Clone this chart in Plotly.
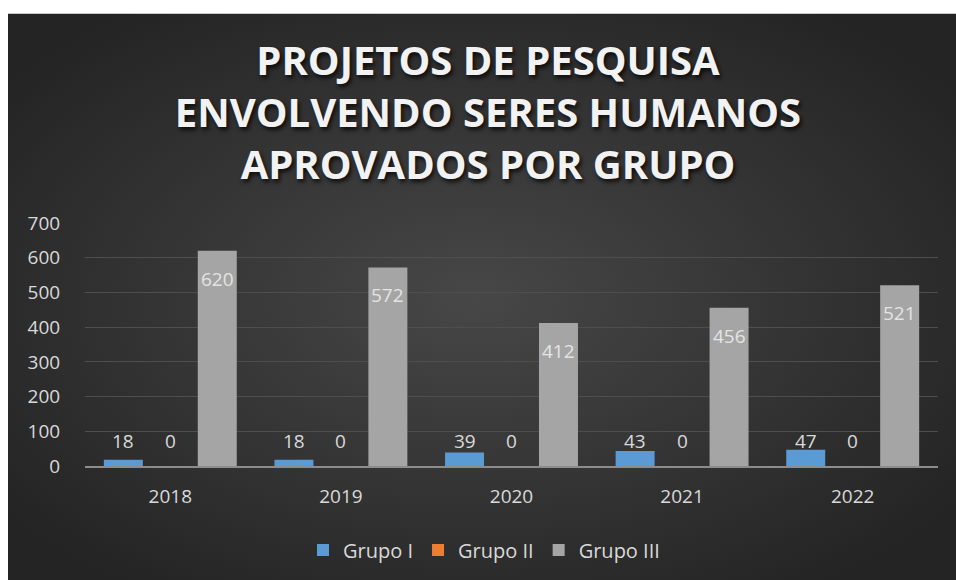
import base64
import plotly.graph_objects as go

years = ["2018", "2019", "2020", "2021", "2022"]
grupo_i = [18, 18, 39, 43, 47]
grupo_ii = [0, 0, 0, 0, 0]
grupo_iii = [620, 572, 412, 456, 521]
series_names = ["Grupo I", "Grupo II", "Grupo III"]
series_colors = ["#5b9bd5", "#ed7d31", "#a5a5a5"]
title_text = "PROJETOS DE PESQUISA<br>ENVOLVENDO SERES HUMANOS<br>APROVADOS POR GRUPO"
y_ticks = [0, 100, 200, 300, 400, 500, 600, 700]

W, H = 956, 580
L, R, T, B = 85, 18, 223, 113
pw, ph = W - L - R, H - T - B

FONT = "Open Sans"
TXT = "#d9d9d9"

fig = go.Figure()
for name, vals, col in zip(series_names, [grupo_i, grupo_ii, grupo_iii], series_colors):
    fig.add_trace(go.Bar(x=years, y=vals, name=name, marker=dict(color=col, line=dict(width=0))))

# data labels (category index used as x so numeric-looking names are not read as indices)
offsets = [-47, 0, 47]
ann = []
for vals, dx in zip([grupo_i, grupo_ii], offsets[:2]):
    for i, v in enumerate(vals):
        ann.append(dict(x=i, y=0, xref="x", yref="y", text=str(v), showarrow=False,
                        xshift=dx, yshift=25, yanchor="middle",
                        font=dict(family=FONT, size=19, color=TXT)))
for i, v in enumerate(grupo_iii):
    ann.append(dict(x=i, y=v, xref="x", yref="y", text=str(v), showarrow=False,
                    xshift=offsets[2], yshift=-28, yanchor="middle",
                    font=dict(family=FONT, size=19, color="#e4e4e4")))

# dark panel with soft radial gradient
svg = ('<svg xmlns="http://www.w3.org/2000/svg" width="960" height="580" viewBox="0 0 960 580" '
       'preserveAspectRatio="none"><defs><radialGradient id="g" cx="49%" cy="50%" r="62%">'
       '<stop offset="0" stop-color="#474747"/><stop offset="1" stop-color="#242424"/>'
       '</radialGradient></defs><rect width="960" height="580" fill="url(#g)"/></svg>')
src = "data:image/svg+xml;base64," + base64.b64encode(svg.encode()).decode()
x0, y0 = 8, 13
img = dict(source=src, xref="paper", yref="paper",
           x=(x0 - L) / pw, y=(H - B - y0) / ph,
           sizex=(W + 4 - x0) / pw, sizey=(H + 4 - y0) / ph,
           sizing="stretch", xanchor="left", yanchor="top", layer="below")

# white strips at top and left of the page (outside the dark panel)
def px_x(p):
    return (p - L) / pw

def px_y(p):
    return (H - B - p) / ph

shapes = [
    dict(type="rect", xref="paper", yref="paper", x0=px_x(-2), x1=px_x(W + 2),
         y0=px_y(y0), y1=px_y(-2), fillcolor="white", line=dict(width=0), layer="below"),
    dict(type="rect", xref="paper", yref="paper", x0=px_x(-2), x1=px_x(x0),
         y0=px_y(H + 2), y1=px_y(-2), fillcolor="white", line=dict(width=0), layer="below"),
]

fig.update_layout(
    width=W, height=H, autosize=False,
    margin=dict(l=L, r=R, t=T, b=B, pad=0),
    paper_bgcolor="#2a2a2a", plot_bgcolor="rgba(0,0,0,0)",
    images=[img], shapes=shapes,
    barmode="group", bargap=0.174, bargroupgap=0.17,
    title=dict(text=title_text, x=488 / W, xref="container", xanchor="center",
               y=1 - 75 / H, yref="container", yanchor="middle",
               font=dict(family=FONT, size=40, weight="bold", color="#f2f2f2",
                         shadow="2px 3px 4px rgba(0,0,0,0.75)")),
    xaxis=dict(type="category", showgrid=False, showline=True, linecolor="#8c8c8c", linewidth=2,
               ticks="outside", ticklen=12, tickcolor="rgba(0,0,0,0)",
               tickfont=dict(family=FONT, size=19, color=TXT)),
    yaxis=dict(range=[0, 700], tickmode="array", tickvals=y_ticks, showgrid=True,
               gridcolor="#4e4e4e", gridwidth=1,
               zeroline=False, showline=False, ticks="outside", ticklen=20,
               tickcolor="rgba(0,0,0,0)",
               tickfont=dict(family=FONT, size=19, color=TXT)),
    legend=dict(orientation="h", x=(484 - L) / pw, xanchor="center", y=(467 - 550) / ph,
                yanchor="middle", font=dict(family=FONT, size=20, color=TXT),
                bgcolor="rgba(0,0,0,0)", itemwidth=30),
    annotations=ann,
    showlegend=True,
)

fig.write_html("out.html", config={"displayModeBar": False},
               post_script="document.body.style.margin='0';document.body.style.overflow='hidden';")
